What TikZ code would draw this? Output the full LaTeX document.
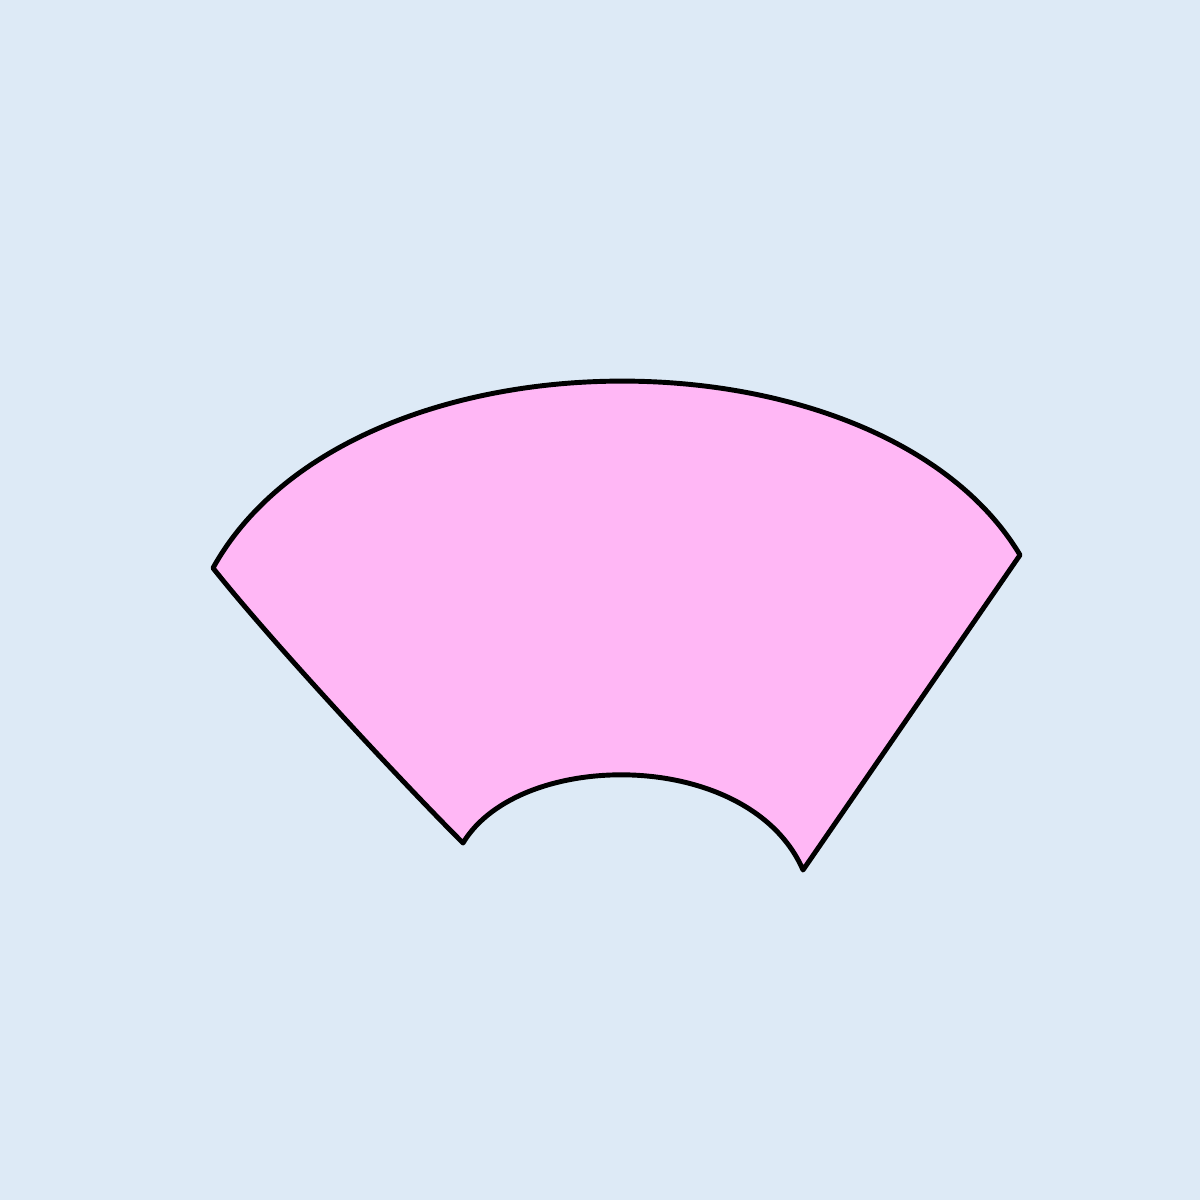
\documentclass[tikz,border=0pt]{standalone}
\usepackage{tikz}
\definecolor{bgblue}{RGB}{221,234,246}
\definecolor{fanpink}{RGB}{255,183,245}

\begin{document}
\begin{tikzpicture}[x=0.1mm, y=-0.1mm]
    \fill[bgblue] (0,0) rectangle (1200,1200);
    \useasboundingbox (0,0) rectangle (1200,1200);

    \coordinate (tl) at ( 213, 568);
    \coordinate (tr) at (1020, 555);
    \coordinate (br) at ( 803, 870);
    \coordinate (bl) at ( 463, 843);

    \draw[fill=fanpink, line width=1.4pt, line join=round, line cap=round]
        (tl) .. controls (350,321) and (880,321) .. (tr)
             -- (br)
             .. controls (750,748) and (520,748) .. (bl)
             .. controls (400,780) and (270,640) .. (tl) -- cycle;
\end{tikzpicture}
\end{document}
